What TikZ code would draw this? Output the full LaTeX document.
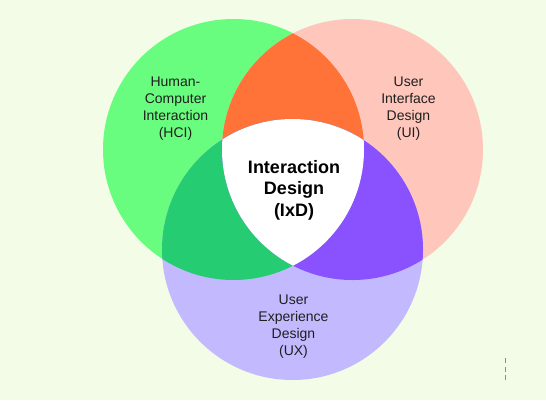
\documentclass[tikz,border=0pt]{standalone}
\usepackage{fontspec}
\setmainfont{Liberation Sans}
\begin{document}
\begin{tikzpicture}[x=1pt,y=-1pt,
  lbl/.style={align=center,text=black!88,font=\fontsize{14}{17}\selectfont,inner sep=0pt},
  core/.style={align=center,text=black,font=\bfseries\fontsize{18}{21.5}\selectfont,inner sep=0pt}]
\definecolor{bg}{HTML}{F2FCE6}
\definecolor{cgreen}{HTML}{68FD7E}
\definecolor{cpink}{HTML}{FFC7BC}
\definecolor{clav}{HTML}{C3B9FF}
\definecolor{corange}{HTML}{FF7238}
\definecolor{cdkgreen}{HTML}{26CC71}
\definecolor{cviolet}{HTML}{8A52FF}
\fill[bg] (0,0) rectangle (546,400);
\useasboundingbox (0,0) rectangle (546,400);
\def\cG{(233.5,149.5) circle[radius=130.5]}
\def\cP{(352.5,149.5) circle[radius=130.5]}
\def\cU{(292.5,249.5) circle[radius=130.5]}
\fill[cgreen] \cG;
\fill[cpink] \cP;
\fill[clav] \cU;
\begin{scope}\clip \cG; \fill[corange] \cP; \end{scope}
\begin{scope}\clip \cG; \fill[cdkgreen] \cU; \end{scope}
\begin{scope}\clip \cP; \fill[cviolet] \cU; \end{scope}
\begin{scope}\clip \cG; \clip \cP; \fill[white] \cU; \end{scope}
\node[lbl] (hci) at (175.5,108.5) {Human-\\Computer\\Interaction\\(HCI)};
\node[lbl] (ui) at (408.5,108.5) {User\\Interface\\Design\\(UI)};
\node[lbl] (ux) at (293.5,326.5) {User\\Experience\\Design\\(UX)};
\node[core] (ixd) at (294,190) {Interaction\\Design\\(IxD)};
\draw[black!45,line width=0.8pt,dash pattern=on 5pt off 3.5pt] (505,358) -- (505,382);
\end{tikzpicture}
\end{document}
